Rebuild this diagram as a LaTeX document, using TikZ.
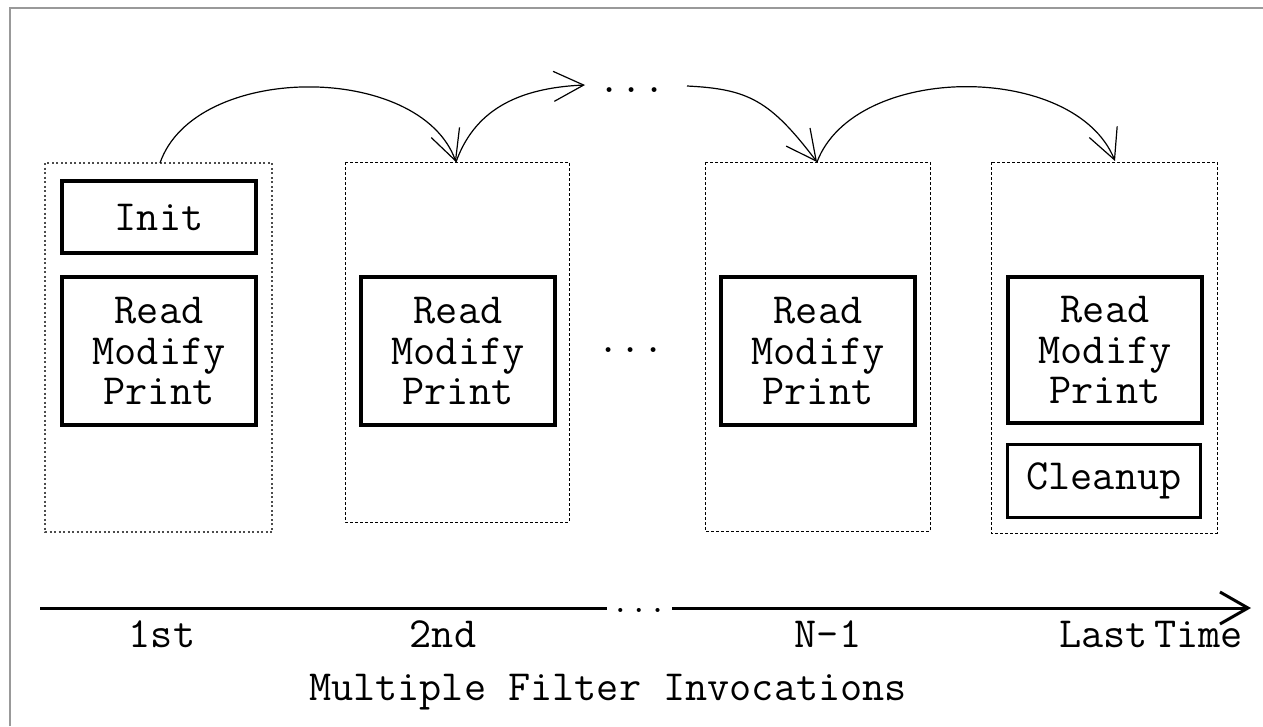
\documentclass[tikz,border=0pt]{standalone}
\usepackage{fontspec}
\usetikzlibrary{arrows.meta}
\begin{document}
\begin{tikzpicture}[x=1pt,y=-1pt,
  lbl/.style={font=\ttfamily\fontsize{43}{40.5}\selectfont, inner sep=0pt},
  solidbox/.style={draw, line width=3.2pt, align=center, inner sep=0pt,
     font=\ttfamily\fontsize{43}{40.5}\selectfont},
  outerbox/.style={draw, line width=1pt, dash pattern=on 3pt off 2pt},
  firstbox/.style={draw=black!70, line width=1.6pt, dash pattern=on 2pt off 2.5pt},
  flow/.style={line width=1.2pt, -{Straight Barb[length=30pt,width=30pt,line width=1.2pt]}},
]
\useasboundingbox (0,0) rectangle (1263,726);
% frame
\draw[black!40, line width=2pt] (10,726) -- (10,8) -- (1263,8);

% outer boxes
\draw[firstbox] (45,163) rectangle (272,532);
\draw[outerbox] (345,162) rectangle (569,522);
\draw[outerbox] (705,162) rectangle (930,531);
\draw[outerbox] (991,162) rectangle (1217,533);

\coordinate (b1top) at (160,163);
\coordinate (b2top) at (456,162);
\coordinate (b3top) at (817,162);
\coordinate (b4top) at (1115,161);

% inner boxes
\node[solidbox, minimum width=194pt, minimum height=72pt] (init) at (159,217) {Init};
\node[solidbox, minimum width=194pt, minimum height=148pt] (rmp1) at (159,351) {Read\\Modify\\Print};
\node[solidbox, minimum width=194pt, minimum height=148pt] (rmp2) at (458,351) {Read\\Modify\\Print};
\node[solidbox, minimum width=194pt, minimum height=148pt] (rmp3) at (818,351) {Read\\Modify\\Print};
\node[solidbox, minimum width=194pt, minimum height=146pt] (rmp4) at (1105,350) {Read\\Modify\\Print};
\node[solidbox, minimum width=193pt, minimum height=73pt] (cleanup) at (1104,481) {Cleanup};

% dots
\node[lbl, anchor=base] (dotsmid) at (631,352) {...};
\node[lbl, anchor=base] (dotstop) at (632,92) {...};
\coordinate (dtl) at (585,85);
\coordinate (dtr) at (687,86);

% flow arcs
\draw[flow] (b1top) .. controls (195,62) and (420,62) .. (b2top);
\draw[flow] (b2top) .. controls (474,112) and (515,88) .. (dtl);
\draw[flow] (dtr) .. controls (748,89) and (770,100) .. (b3top);
\draw[flow] (b3top) .. controls (855,62) and (1075,62) .. (b4top);

% timeline
\coordinate (t0) at (40,608);
\coordinate (t1) at (607,608);
\coordinate (t2) at (672,608);
\coordinate (t3) at (1251,608);
\draw[line width=3pt] (t0) -- (t1);
\node[lbl, anchor=base, font=\ttfamily\fontsize{36}{36}\selectfont] (tdots) at (639,612) {...};
\draw[line width=3pt, -{Straight Barb[length=28pt,width=32pt,line width=3pt]}] (t2) -- (t3);

\node[lbl, anchor=base] (l1) at (162,647) {1st};
\node[lbl, anchor=base] (l2) at (443,647) {2nd};
\node[lbl, anchor=base] (l3) at (828,647) {N-1};
\node[lbl, anchor=base] (l4) at (1151,647) {Last\kern-0.36em\ Time};
\node[lbl, anchor=base] (title) at (608,700) {Multiple Filter Invocations};
\end{tikzpicture}
\end{document}
